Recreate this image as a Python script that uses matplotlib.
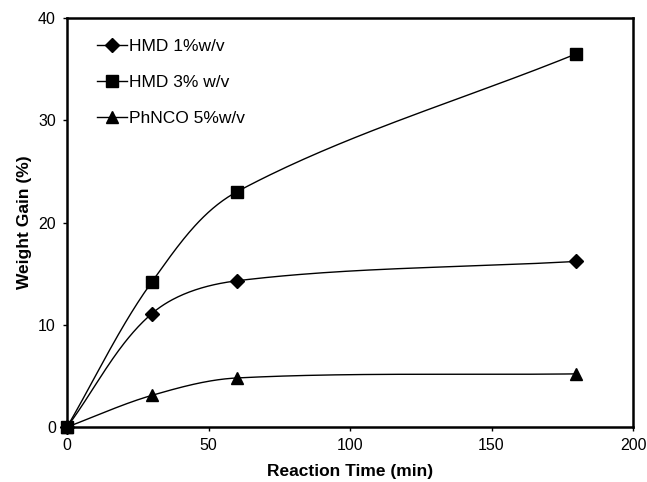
import numpy as np
import matplotlib.pyplot as plt

plt.rcParams['font.family'] = ['Liberation Sans', 'DejaVu Sans']

time_min = [0, 30, 60, 180]
hmd_1 = [0, 11.1, 14.3, 16.2]
hmd_3 = [0, 14.2, 23.0, 36.5]
phnco_5 = [0, 3.1, 4.8, 5.2]

series = [
    ('HMD 1%w/v', hmd_1, 'D', 7.5),
    ('HMD 3% w/v', hmd_3, 's', 8),
    ('PhNCO 5%w/v', phnco_5, '^', 8.5),
]

XMAX, YMAX = 200, 40


def smooth(xs, ys, sx, sy, n=60):
    # bezier spline through the points; tangent handles scaled to each segment length
    p = np.column_stack([np.asarray(xs, float) * sx, np.asarray(ys, float) * sy])
    m = len(p)
    tang = []
    for i in range(m):
        d = p[min(i + 1, m - 1)] - p[max(i - 1, 0)]
        tang.append(d / np.hypot(*d))
    out = []
    for i in range(m - 1):
        p1, p2 = p[i], p[i + 1]
        L = np.hypot(*(p2 - p1)) / 3
        c1 = p1 + tang[i] * L
        c2 = p2 - tang[i + 1] * L
        t = np.linspace(0, 1, n)[:, None]
        seg = (1 - t) ** 3 * p1 + 3 * (1 - t) ** 2 * t * c1 + 3 * (1 - t) * t ** 2 * c2 + t ** 3 * p2
        out.append(seg if i == 0 else seg[1:])
    out = np.vstack(out)
    return out[:, 0] / sx, out[:, 1] / sy


fig = plt.figure(figsize=(6.47, 4.82), dpi=100)
ax = fig.add_axes([0.1036, 0.114, 0.8748, 0.8487])

sx = 566 / XMAX
sy = 409 / YMAX
for label, vals, mk, ms in series:
    cx, cy = smooth(time_min, vals, sx, sy)
    ax.plot(cx, cy, color='black', lw=1.0, zorder=2)
    ax.plot(time_min, vals, ls='none', marker=mk, ms=ms, color='black',
            zorder=3, clip_on=False)
    ax.plot([], [], color='black', lw=1.0, marker=mk, ms=ms, label=label)

ax.set_xlim(0, XMAX)
ax.set_ylim(0, YMAX)
ax.set_xticks([0, 50, 100, 150, 200])
ax.set_yticks([0, 10, 20, 30, 40])
ax.tick_params(direction='out', length=3, width=1, labelsize=11.5, pad=5)
for s in ax.spines.values():
    s.set_linewidth(1.8)

ax.set_xlabel('Reaction Time (min)', fontsize=12.5, fontweight='bold', labelpad=8)
ax.set_ylabel('Weight Gain (%)', fontsize=12.5, fontweight='bold', labelpad=4)

ax.legend(loc='upper left', frameon=False, fontsize=12.5, handlelength=1.75,
          handletextpad=0.1, labelspacing=1.2, borderaxespad=0.5,
          bbox_to_anchor=(0.025, 0.987))

fig.savefig('out.png', dpi=100)
